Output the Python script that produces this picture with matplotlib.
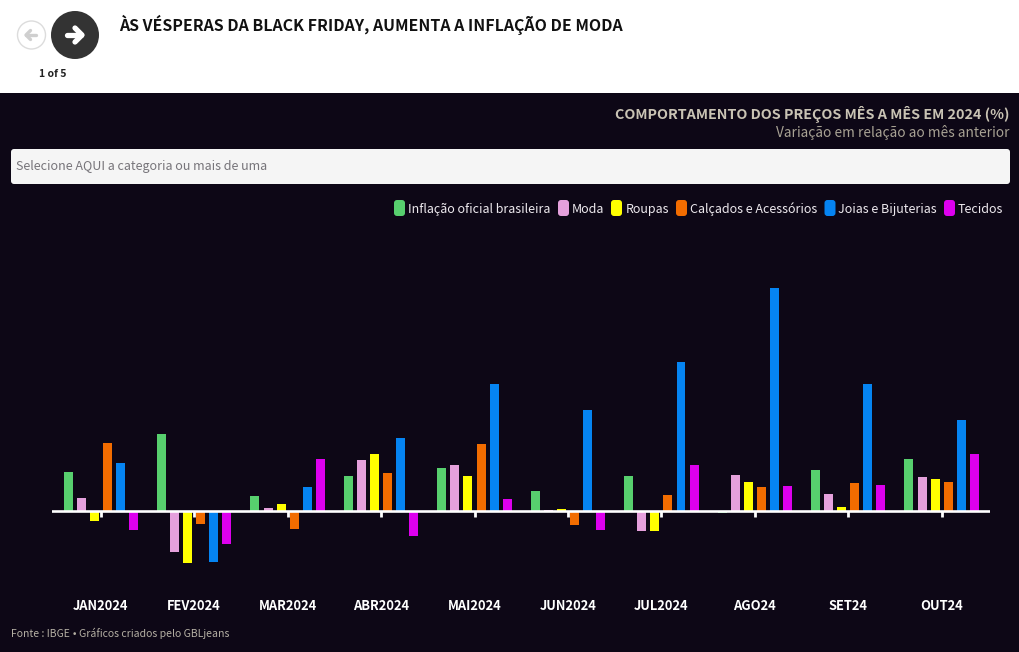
import matplotlib
matplotlib.use("Agg")
import matplotlib.pyplot as plt
from matplotlib.patches import Circle, FancyBboxPatch
import numpy as np

plt.rcParams['font.family'] = ['Noto Sans CJK SC', 'DejaVu Sans']

# monthly change, %
months = ['JAN2024', 'FEV2024', 'MAR2024', 'ABR2024', 'MAI2024',
          'JUN2024', 'JUL2024', 'AGO24', 'SET24', 'OUT24']
inflacao = [0.42, 0.83, 0.16, 0.38, 0.46, 0.21, 0.38, -0.02, 0.44, 0.56]
moda = [0.14, -0.44, 0.03, 0.55, 0.50, 0.01, -0.22, 0.39, 0.18, 0.37]
roupas = [-0.11, -0.56, 0.08, 0.61, 0.38, 0.02, -0.21, 0.31, 0.04, 0.34]
calcados = [0.73, -0.14, -0.19, 0.41, 0.72, -0.15, 0.17, 0.26, 0.30, 0.31]
joias = [0.52, -0.55, 0.26, 0.79, 1.37, 1.09, 1.60, 2.40, 1.37, 0.98]
tecidos = [-0.20, -0.36, 0.56, -0.27, 0.13, -0.20, 0.49, 0.27, 0.28, 0.61]

series = [inflacao, moda, roupas, calcados, joias, tecidos]
names = ['Inflação oficial brasileira', 'Moda', 'Roupas',
         'Calçados e Acessórios', 'Joias e Bijuterias', 'Tecidos']
colors = ['#57CF6E', '#E5A0DC', '#FFFF00', '#F26C00', '#0584F2', '#DD00EE']

BG = '#0D0716'
W, H = 1020, 652

fig = plt.figure(figsize=(W / 100, H / 100), dpi=100, facecolor=BG)

# page furniture drawn in pixel coordinates
ui = fig.add_axes([0, 0, 1, 1])
ui.set_xlim(0, W)
ui.set_ylim(H, 0)
ui.axis('off')

ui.fill_between([0, W], 0, 93, color='white', lw=0)
ui.add_patch(Circle((31.5, 35), 14, fc='white', ec='#DCDCDC', lw=1))
ui.plot([26, 36], [35, 35], color='#CFCFCF', lw=2.4, solid_capstyle='round')
ui.plot([30.5, 26, 30.5], [30.5, 35, 39.5], color='#CFCFCF', lw=2.4,
        solid_capstyle='round', solid_joinstyle='round')
ui.add_patch(Circle((75, 35), 24, fc='#333333', ec='none'))
ui.plot([67, 81], [35, 35], color='white', lw=3.8, solid_capstyle='round')
ui.plot([75, 82, 75], [28, 35, 42], color='white', lw=3.8,
        solid_capstyle='round', solid_joinstyle='round')
ui.text(53, 74, '1 of 5', ha='center', va='center', fontsize=7.5,
        fontweight='bold', color='#222222')
ui.text(118.7, 25, 'ÀS VÉSPERAS DA BLACK FRIDAY, AUMENTA A INFLAÇÃO DE MODA',
        ha='left', va='center', fontsize=11.45, fontweight='bold', color='#111111')

ui.text(1009.5, 113.5, 'COMPORTAMENTO DOS PREÇOS MÊS A MÊS EM 2024 (%)', ha='right',
        va='center', fontsize=10.33, fontweight='bold', color='#C9C3B4')
ui.text(1009.5, 133, 'Variação em relação ao mês anterior', ha='right',
        va='center', fontsize=9.87, color='#A8A294')

ui.add_patch(FancyBboxPatch((13, 151), 995, 31, boxstyle='round,pad=2,rounding_size=3',
                            fc='#F5F5F5', ec='none'))
ui.text(16, 170, 'Selecione AQUI a categoria ou mais de uma', ha='left',
        va='baseline', fontsize=9.03, color='#77757A')

legend_x = [394, 558, 611, 676, 824.5, 944]
legend_text_x = [408, 572, 625.5, 690, 838, 958]
for x0, tx, name, c in zip(legend_x, legend_text_x, names, colors):
    ui.add_patch(FancyBboxPatch((x0 + 2, 202), 7, 12, boxstyle='round,pad=2,rounding_size=3',
                                fc=c, ec='none'))
    ui.text(tx, 213, name, ha='left', va='baseline', fontsize=9.0, color='#EDE9EE')

# the CJK font has a full-width bullet, so it comes from DejaVu as its own text
ui.text(11, 637, 'Fonte : IBGE', ha='left', va='baseline', fontsize=7.5, color='#B5B0A4')
ui.text(74.5, 637, '•', ha='center', va='baseline', fontsize=6.5,
        family='DejaVu Sans', color='#B5B0A4')
ui.text(79, 637, 'Gráficos criados pelo GBLjeans', ha='left', va='baseline',
        fontsize=7.55, color='#B5B0A4')

# bar chart: 52-990 px wide, zero line at y=511, 93 px per 1%
ax = fig.add_axes([52 / W, 1 - 590 / H, 938 / W, 350 / H])
ax.patch.set_alpha(0)
ax.set_xlim(-0.5225, 9.5175)
ax.set_ylim(-79 / 93, 271 / 93)

x = np.arange(len(months))
step = 0.14
for i, (vals, c) in enumerate(zip(series, colors)):
    ax.bar(x + (i - 2.5) * step, vals, width=0.096, color=c, zorder=2)

ax.axhline(0, color='white', lw=1.9, zorder=3)
for s in ax.spines.values():
    s.set_visible(False)
ax.set_yticks([])
ax.set_xticks(x, months)
ax.xaxis.set_ticks_position('bottom')
ax.spines['bottom'].set_position(('data', 0))
ax.tick_params(axis='x', length=4, width=2, color='white', pad=59.5, zorder=1)
for t in ax.get_xticklabels():
    t.set_color('white')
    t.set_fontsize(9.3)
    t.set_fontweight('bold')

fig.savefig('out.png', dpi=100, facecolor=BG)
